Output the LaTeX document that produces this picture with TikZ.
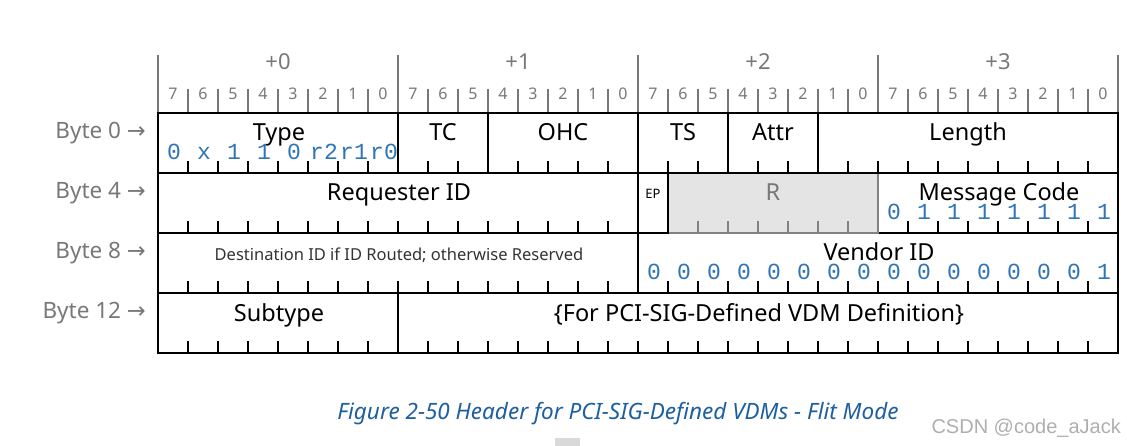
\documentclass[tikz,border=0pt]{standalone}
\usepackage{fontspec}
\setmainfont{Noto Sans}
\newfontfamily\monof{Liberation Mono}
\newfontfamily\arrowf{DejaVu Sans}
\newfontfamily\wmf{Liberation Sans}
\definecolor{hdrgray}{RGB}{120,120,120}
\definecolor{bitblue}{RGB}{46,117,182}
\definecolor{capblue}{RGB}{30,95,160}
\definecolor{rfill}{RGB}{228,228,228}
\definecolor{rline}{RGB}{130,130,130}
\definecolor{wmgray}{RGB}{175,175,175}
\begin{document}
\begin{tikzpicture}[x=1pt,y=-1pt,
  hdrline/.style={draw=hdrgray,line width=1.6pt},
  hdrtxt/.style={text=hdrgray,inner sep=0,font=\fontsize{22}{22}\selectfont},
  bitnum/.style={text=hdrgray,inner sep=0,font=\fontsize{16}{16}\selectfont},
  border/.style={draw=black,line width=2.6pt},
  tickmark/.style={draw=black,line width=1.6pt},
  lbl/.style={inner sep=0,text=black,anchor=base,font=\fontsize{23.5}{23.5}\selectfont},
  bytelbl/.style={inner sep=0,text=hdrgray,anchor=east,font=\fontsize{22.5}{22.5}\selectfont},
  bits/.style={inner sep=0,text=bitblue,anchor=base,text height=14pt,text depth=0pt,font=\monof\fontsize{23}{23}\selectfont}]
\useasboundingbox (0,0) rectangle (1127,446);
\fill[white] (0,0) rectangle (1127,446);
% header
\foreach \b in {0,...,3}{
  \draw[hdrline] (158+240*\b,55) -- (158+240*\b,113);
  \node[hdrtxt] (plus\b) at (278+240*\b,62) {+\b};
  \foreach \j in {1,...,7}{
    \draw[hdrline] (158+240*\b+30*\j,89) -- (158+240*\b+30*\j,113);
  }
  \foreach \j in {0,...,7}{
    \pgfmathtruncatemacro{\n}{7-\j}
    \node[bitnum] (bn\b\j) at (173+240*\b+30*\j,94) {\n};
  }
}
\draw[hdrline] (1118,55) -- (1118,113);
% R fill
\fill[rfill] (668,173) rectangle (878,233);
% field ticks: row, start, end, colour
\foreach \r/\s/\e/\c in {0/0/8/black,0/8/11/black,0/11/16/black,0/16/19/black,0/19/22/black,0/22/32/black,
  1/0/16/black,1/17/24/rline,1/24/32/black,
  2/0/16/black,2/16/32/black,
  3/0/8/black,3/8/32/black}{
  \pgfmathtruncatemacro{\a}{\s+1}
  \pgfmathtruncatemacro{\z}{\e-1}
  \foreach \i in {\a,...,\z}{
    \draw[tickmark,draw=\c] (158+30*\i,173+60*\r) -- (158+30*\i,161+60*\r);
  }
}
% horizontal borders
\foreach \r in {0,...,4}{
  \draw[border] (156.7,113+60*\r) -- (1119.3,113+60*\r);
}
\draw[border] (158,113) -- (158,353);
\draw[border] (1118,113) -- (1118,353);
% field separators
\foreach \r/\i in {0/8,0/11,0/16,0/19,0/22,1/16,1/17,1/24,2/16,3/8}{
  \draw[border] (158+30*\i,113+60*\r) -- (158+30*\i,173+60*\r);
}
% R border in gray
\draw[line width=2.6pt,draw=rline] (669.3,233) -- (878,233) -- (878,174.3);
% labels row 0 (baselines)
\node[lbl] (type) at (279,141) {Type};
\node[lbl] (tc) at (443,141) {TC};
\node[lbl] (ohc) at (563,141) {OHC};
\node[lbl] (ts) at (683,141) {TS};
\node[lbl] (attr) at (773,141) {Attr};
\node[lbl] (length) at (968,141) {Length};
% row 1
\node[lbl] (reqid) at (399,201) {Requester ID};
\node[inner sep=0,font=\fontsize{13}{13}\selectfont] (ep) at (653,194) {EP};
\node[inner sep=0,text=hdrgray,font=\fontsize{23.5}{23.5}\selectfont] (rsv) at (773,192) {R};
\node[lbl] (msgcode) at (999,201) {Message Code};
% row 2
\node[inner sep=0,text=black!80,font=\fontsize{16.5}{16.5}\selectfont] (dest) at (399,255) {Destination ID if ID Routed; otherwise Reserved};
\node[lbl] (vendor) at (879,261) {Vendor ID};
% row 3
\node[lbl] (subtype) at (279,321) {Subtype};
\node[lbl] (pcisig) at (759,321) {\{For PCI-SIG-Defined VDM Definition\}};
% blue bit values
\foreach \t [count=\k from 0] in {0,x,1,1,0,r2,r1,r0}{
  \node[bits] (tb\k) at (174+30*\k,159.5) {\t};
}
\foreach \t [count=\k from 0] in {0,1,1,1,1,1,1,1}{
  \node[bits] (mb\k) at (894+30*\k,219.5) {\t};
}
\foreach \t [count=\k from 0] in {0,0,0,0,0,0,0,0,0,0,0,0,0,0,0,1}{
  \node[bits] (vb\k) at (654+30*\k,279.5) {\t};
}
% byte labels
\node[bytelbl] (b0) at (146,133) {Byte 0 {\arrowf →}};
\node[bytelbl] (b4) at (146,193) {Byte 4 {\arrowf →}};
\node[bytelbl] (b8) at (146,253) {Byte 8 {\arrowf →}};
\node[bytelbl] (b12) at (146,313) {Byte 12 {\arrowf →}};
% caption
\node[inner sep=0,text=capblue,font=\itshape\fontsize{22.5}{22.5}\selectfont] (cap) at (618,414) {Figure 2-50 Header for PCI-SIG-Defined VDMs - Flit Mode};
\node[inner sep=0,anchor=east,text=wmgray,font=\wmf\fontsize{20}{20}\selectfont] (wm) at (1121,428) {CSDN @code\_aJack};
\fill[black!15] (555,438) rectangle (580,446);
\end{tikzpicture}
\end{document}
